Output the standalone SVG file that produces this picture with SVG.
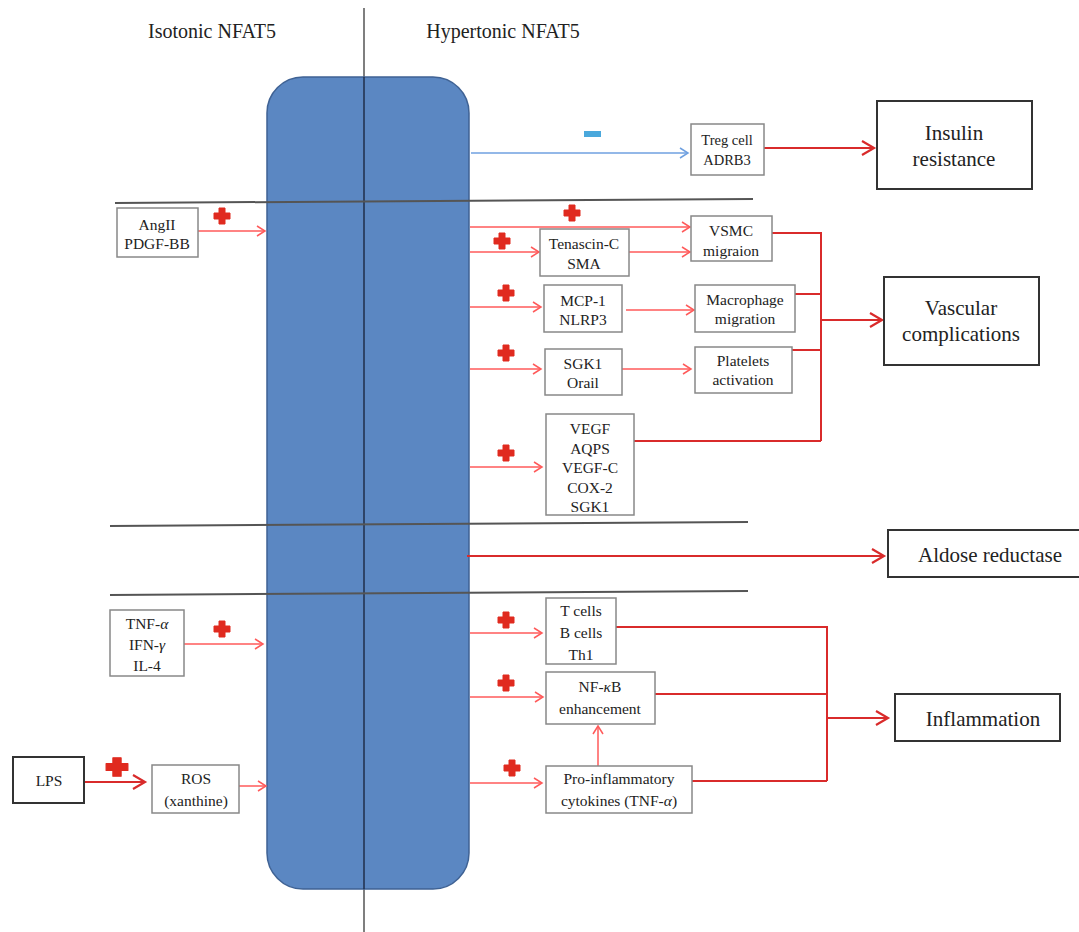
<svg xmlns="http://www.w3.org/2000/svg" width="1079" height="932" viewBox="0 0 1079 932">
<style>
text{font-family:"Liberation Serif","Times New Roman",serif;fill:#222;text-anchor:middle}
.s{font-size:15.5px}
.t{font-size:14.5px}
.b{font-size:21px}
.h{font-size:20px}
.box{fill:#fff;stroke:#888;stroke-width:1.5}
.big{fill:#fff;stroke:#333;stroke-width:2}
.thin{fill:none;stroke:#ff5a5a;stroke-width:1.5}
.thick{fill:none;stroke:#d92b2b;stroke-width:2}
.div{stroke:#555;stroke-width:2}
</style>
<defs>
<marker id="aT" markerUnits="userSpaceOnUse" markerWidth="12" markerHeight="14" refX="9" refY="6" orient="auto" overflow="visible">
<path d="M1,1 L9,6 L1,11" fill="none" stroke="#ff5a5a" stroke-width="1.5"/>
</marker>
<marker id="aB" markerUnits="userSpaceOnUse" markerWidth="12" markerHeight="14" refX="9" refY="6" orient="auto" overflow="visible">
<path d="M1,1 L9,6 L1,11" fill="none" stroke="#6fa0e0" stroke-width="1.5"/>
</marker>
<marker id="aK" markerUnits="userSpaceOnUse" markerWidth="16" markerHeight="18" refX="13" refY="8" orient="auto" overflow="visible">
<path d="M1,1 L13,8 L1,15" fill="none" stroke="#d92b2b" stroke-width="2.2"/>
</marker>
<g id="plus"><path d="M-3,-8 H3 V-3 H8 V3 H3 V8 H-3 V3 H-8 V-3 H-3 Z" fill="#e02a1f" stroke="#e02a1f" stroke-width="1" stroke-linejoin="round"/></g>
</defs>

<g id="background">
<line x1="364" y1="8" x2="364" y2="932" stroke="#555" stroke-width="1.5"/>
<rect x="267" y="77" width="202" height="812" rx="36" ry="36" fill="#5b87c2" stroke="#3f6294" stroke-width="1.5"/>
<line x1="364" y1="77" x2="364" y2="889" stroke="#1f2e4a" stroke-width="1.5"/>
<line class="div" x1="115" y1="203" x2="753" y2="199"/>
<line class="div" x1="110" y1="526" x2="748" y2="522"/>
<line class="div" x1="110" y1="595" x2="748" y2="591"/>
<text class="h" x="212" y="38">Isotonic NFAT5</text>
<text class="h" x="503" y="38">Hypertonic NFAT5</text>
</g>

<g id="connectors">
<line x1="471" y1="153" x2="688" y2="153" stroke="#6fa0e0" stroke-width="1.5" marker-end="url(#aB)"/>
<rect x="584" y="131" width="17" height="6" fill="#4aa8dc"/>
<line class="thick" x1="764" y1="148" x2="874" y2="148" marker-end="url(#aK)"/>

<line class="thin" x1="198" y1="231" x2="265" y2="231" marker-end="url(#aT)"/>
<line class="thin" x1="470" y1="227" x2="690" y2="227" marker-end="url(#aT)"/>
<line class="thin" x1="470" y1="252" x2="539" y2="252" marker-end="url(#aT)"/>
<line class="thin" x1="629" y1="252" x2="690" y2="252" marker-end="url(#aT)"/>
<line class="thin" x1="470" y1="307" x2="541" y2="307" marker-end="url(#aT)"/>
<line class="thin" x1="626" y1="310" x2="694" y2="310" marker-end="url(#aT)"/>
<line class="thin" x1="470" y1="369" x2="541" y2="369" marker-end="url(#aT)"/>
<line class="thin" x1="622" y1="369" x2="691" y2="369" marker-end="url(#aT)"/>
<line class="thin" x1="470" y1="467" x2="542" y2="467" marker-end="url(#aT)"/>

<path class="thick" d="M772,233 H821 V441 M795,294 H821 M792,350 H821 M634,441 H821"/>
<line class="thick" x1="821" y1="320" x2="882" y2="320" marker-end="url(#aK)"/>

<line class="thick" x1="467" y1="556" x2="884" y2="556" marker-end="url(#aK)"/>

<line class="thin" x1="184" y1="644" x2="263" y2="644" marker-end="url(#aT)"/>
<line class="thin" x1="470" y1="633" x2="542" y2="633" marker-end="url(#aT)"/>
<line class="thin" x1="470" y1="697" x2="543" y2="697" marker-end="url(#aT)"/>
<line class="thin" x1="470" y1="783" x2="542" y2="783" marker-end="url(#aT)"/>
<line class="thin" x1="598" y1="766" x2="598" y2="726" marker-end="url(#aT)"/>

<path class="thick" d="M616,627 H827 V781 M653,694 H827 M692,781 H827"/>
<line class="thick" x1="827" y1="718" x2="888" y2="718" marker-end="url(#aK)"/>

<line class="thick" x1="84" y1="782" x2="145" y2="782" marker-end="url(#aK)"/>
<line class="thin" x1="239" y1="786" x2="266" y2="786" marker-end="url(#aT)"/>

<use href="#plus" x="222" y="216"/>
<use href="#plus" x="572" y="213"/>
<use href="#plus" x="502" y="241"/>
<use href="#plus" x="506" y="293"/>
<use href="#plus" x="506" y="353"/>
<use href="#plus" x="506" y="453"/>
<use href="#plus" x="222" y="629"/>
<use href="#plus" x="506" y="620"/>
<use href="#plus" x="506" y="683"/>
<use href="#plus" x="512" y="768"/>
<use href="#plus" transform="translate(117,767) scale(1.35,1.15)"/>
</g>

<g id="treg"><rect class="box" x="691" y="124" width="73" height="51"/><text class="t" x="727" y="145">Treg cell</text><text class="t" x="727" y="165">ADRB3</text></g>
<g id="insulin"><rect class="big" x="877" y="101" width="155" height="88"/><text class="b" x="954" y="140">Insulin</text><text class="b" x="954" y="166">resistance</text></g>

<g id="angii"><rect class="box" x="117" y="208" width="81" height="49"/><text class="s" x="157" y="230">AngII</text><text class="s" x="157" y="249">PDGF-BB</text></g>
<g id="vsmc"><rect class="box" x="691" y="216" width="81" height="45"/><text class="s" x="731" y="236">VSMC</text><text class="s" x="731" y="256">migraion</text></g>
<g id="tenascin"><rect class="box" x="540" y="229" width="89" height="47"/><text class="s" x="584" y="249">Tenascin-C</text><text class="s" x="584" y="269">SMA</text></g>
<g id="mcp1"><rect class="box" x="544" y="285" width="78" height="47"/><text class="s" x="583" y="306">MCP-1</text><text class="s" x="583" y="325">NLRP3</text></g>
<g id="macrophage"><rect class="box" x="695" y="285" width="100" height="47"/><text class="s" x="745" y="305">Macrophage</text><text class="s" x="745" y="324">migration</text></g>
<g id="sgk1"><rect class="box" x="545" y="349" width="77" height="46"/><text class="s" x="583" y="369">SGK1</text><text class="s" x="583" y="388">Orail</text></g>
<g id="platelets"><rect class="box" x="695" y="347" width="97" height="46"/><text class="s" x="743" y="366">Platelets</text><text class="s" x="743" y="385">activation</text></g>
<g id="vegf"><rect class="box" x="546" y="414" width="88" height="101"/>
<text class="s" x="590" y="434">VEGF</text><text class="s" x="590" y="454">AQPS</text><text class="s" x="590" y="473">VEGF-C</text><text class="s" x="590" y="493">COX-2</text><text class="s" x="590" y="512">SGK1</text></g>
<g id="vascular"><rect class="big" x="884" y="277" width="155" height="88"/><text class="b" x="961" y="315">Vascular</text><text class="b" x="961" y="341">complications</text></g>

<g id="aldose"><rect class="big" x="888" y="530" width="195" height="47"/><text class="b" x="990" y="562">Aldose reductase</text></g>

<g id="tnf"><rect class="box" x="110" y="610" width="74" height="66"/><text class="s" x="147" y="629">TNF-<tspan font-style="italic">α</tspan></text><text class="s" x="147" y="650">IFN-<tspan font-style="italic">γ</tspan></text><text class="s" x="147" y="671">IL-4</text></g>
<g id="tcells"><rect class="box" x="546" y="598" width="70" height="66"/><text class="s" x="581" y="616">T cells</text><text class="s" x="581" y="638">B cells</text><text class="s" x="581" y="660">Th1</text></g>
<g id="nfkb"><rect class="box" x="546" y="672" width="109" height="52"/><text class="s" x="600" y="692">NF-<tspan font-style="italic">κ</tspan>B</text><text class="s" x="600" y="714">enhancement</text></g>
<g id="proinf"><rect class="box" x="546" y="766" width="146" height="47"/><text class="s" x="619" y="784">Pro-inflammatory</text><text class="s" x="619" y="806">cytokines (TNF-<tspan font-style="italic">α</tspan>)</text></g>
<g id="inflammation"><rect class="big" x="895" y="694" width="165" height="47"/><text class="b" x="983" y="726">Inflammation</text></g>

<g id="lps"><rect class="big" x="13" y="757" width="71" height="46"/><text class="s" x="49" y="786">LPS</text></g>
<g id="ros"><rect class="box" x="152" y="765" width="87" height="48"/><text class="s" x="196" y="784">ROS</text><text class="s" x="196" y="806">(xanthine)</text></g>
</svg>
